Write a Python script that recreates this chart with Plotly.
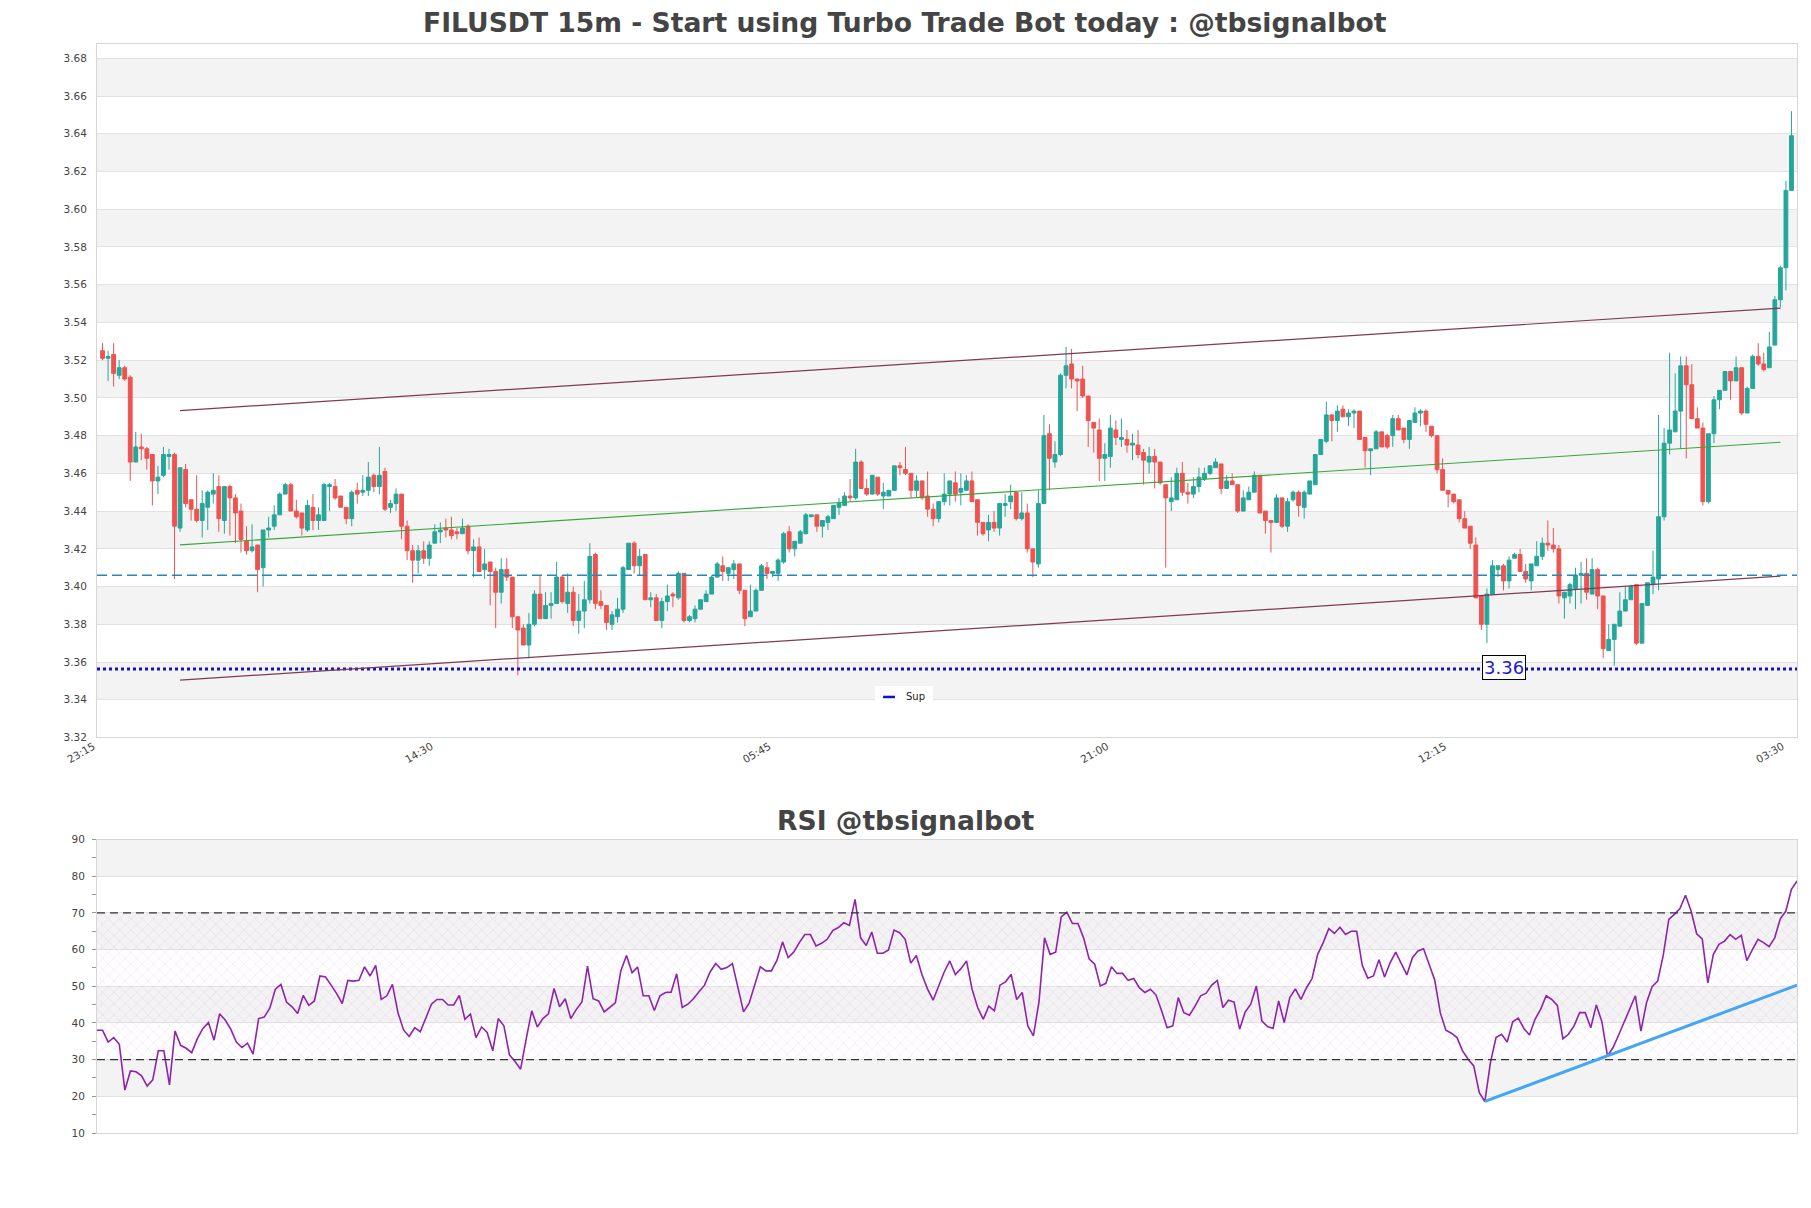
import plotly.graph_objects as go

# ---------------- data ----------------
tick_labels = ["23:15", "14:30", "05:45", "21:00", "12:15", "03:30"]
tick_index = [0, 61, 122, 183, 244, 305]

opens = [
    3.525, 3.521, 3.523, 3.512, 3.516, 3.511, 3.466, 3.474, 3.473, 3.470,
    3.456, 3.459, 3.469, 3.470, 3.431, 3.462, 3.446, 3.441, 3.435, 3.442,
    3.449, 3.453, 3.435, 3.453, 3.447, 3.440, 3.424, 3.419, 3.422, 3.410,
    3.430, 3.432, 3.438, 3.449, 3.454, 3.440, 3.439, 3.430, 3.442, 3.435,
    3.435, 3.453, 3.453, 3.448, 3.442, 3.436, 3.451, 3.450, 3.451, 3.459,
    3.453, 3.461, 3.442, 3.444, 3.449, 3.432, 3.419, 3.414, 3.419, 3.415,
    3.423, 3.429, 3.431, 3.430, 3.429, 3.428, 3.432, 3.419, 3.421, 3.409,
    3.413, 3.408, 3.397, 3.409, 3.405, 3.384, 3.378, 3.369, 3.380, 3.396,
    3.383, 3.390, 3.391, 3.405, 3.391, 3.397, 3.382, 3.387, 3.393, 3.417,
    3.392, 3.390, 3.380, 3.384, 3.388, 3.409, 3.423, 3.411, 3.417, 3.393,
    3.394, 3.382, 3.392, 3.396, 3.394, 3.407, 3.382, 3.383, 3.388, 3.392,
    3.396, 3.405, 3.411, 3.407, 3.409, 3.412, 3.398, 3.384, 3.387, 3.398,
    3.410, 3.407, 3.407, 3.413, 3.429, 3.420, 3.423, 3.428, 3.437, 3.438,
    3.432, 3.434, 3.436, 3.442, 3.443, 3.448, 3.447, 3.466, 3.452, 3.449,
    3.458, 3.448, 3.448, 3.451, 3.464, 3.462, 3.460, 3.451, 3.456, 3.448,
    3.441, 3.436, 3.445, 3.449, 3.455, 3.450, 3.451, 3.456, 3.446, 3.434,
    3.430, 3.434, 3.431, 3.443, 3.445, 3.450, 3.436, 3.439, 3.420, 3.412,
    3.444, 3.481, 3.466, 3.470, 3.512, 3.518, 3.510, 3.510, 3.501, 3.487,
    3.483, 3.468, 3.469, 3.483, 3.478, 3.478, 3.475, 3.475, 3.471, 3.466,
    3.469, 3.466, 3.454, 3.445, 3.446, 3.460, 3.450, 3.449, 3.453, 3.457,
    3.460, 3.463, 3.465, 3.452, 3.456, 3.454, 3.440, 3.446, 3.450, 3.459,
    3.440, 3.435, 3.434, 3.447, 3.432, 3.446, 3.450, 3.442, 3.449, 3.454,
    3.470, 3.477, 3.491, 3.488, 3.494, 3.490, 3.492, 3.493, 3.479, 3.472,
    3.473, 3.482, 3.480, 3.480, 3.489, 3.484, 3.478, 3.487, 3.492, 3.493,
    3.485, 3.480, 3.462, 3.451, 3.449, 3.446, 3.436, 3.432, 3.422, 3.395,
    3.380, 3.396, 3.409, 3.411, 3.403, 3.415, 3.417, 3.408, 3.403, 3.411,
    3.416, 3.423, 3.422, 3.420, 3.394, 3.395, 3.399, 3.406, 3.407, 3.396,
    3.409, 3.395, 3.366, 3.372, 3.379, 3.387, 3.393, 3.401, 3.370, 3.390,
    3.401, 3.404, 3.437, 3.476, 3.482, 3.493, 3.517, 3.507, 3.489, 3.484,
    3.445, 3.481, 3.499, 3.504, 3.514, 3.509, 3.516, 3.492, 3.505, 3.522,
    3.518, 3.516, 3.528, 3.552, 3.569, 3.610,
]

highs = [
    3.529, 3.525, 3.529, 3.520, 3.517, 3.512, 3.482, 3.481, 3.474, 3.470,
    3.464, 3.474, 3.473, 3.471, 3.463, 3.465, 3.446, 3.459, 3.451, 3.451,
    3.460, 3.459, 3.453, 3.454, 3.449, 3.444, 3.432, 3.433, 3.422, 3.430,
    3.437, 3.443, 3.450, 3.455, 3.455, 3.446, 3.439, 3.446, 3.449, 3.442,
    3.455, 3.455, 3.457, 3.448, 3.442, 3.451, 3.455, 3.459, 3.466, 3.460,
    3.474, 3.463, 3.446, 3.452, 3.449, 3.435, 3.422, 3.422, 3.424, 3.424,
    3.433, 3.434, 3.436, 3.437, 3.431, 3.436, 3.433, 3.425, 3.426, 3.420,
    3.413, 3.410, 3.415, 3.415, 3.405, 3.384, 3.380, 3.386, 3.398, 3.406,
    3.397, 3.397, 3.413, 3.406, 3.407, 3.400, 3.396, 3.403, 3.423, 3.418,
    3.398, 3.390, 3.387, 3.394, 3.411, 3.423, 3.424, 3.420, 3.417, 3.397,
    3.396, 3.394, 3.401, 3.397, 3.408, 3.407, 3.385, 3.390, 3.393, 3.398,
    3.406, 3.413, 3.416, 3.410, 3.414, 3.412, 3.398, 3.401, 3.399, 3.412,
    3.413, 3.408, 3.415, 3.429, 3.432, 3.424, 3.430, 3.439, 3.438, 3.438,
    3.435, 3.438, 3.443, 3.447, 3.450, 3.457, 3.473, 3.467, 3.457, 3.459,
    3.458, 3.455, 3.451, 3.464, 3.466, 3.474, 3.460, 3.459, 3.456, 3.461,
    3.444, 3.445, 3.460, 3.456, 3.461, 3.460, 3.459, 3.461, 3.446, 3.434,
    3.438, 3.440, 3.444, 3.449, 3.454, 3.450, 3.450, 3.444, 3.420, 3.451,
    3.491, 3.486, 3.477, 3.513, 3.527, 3.526, 3.510, 3.517, 3.501, 3.487,
    3.489, 3.476, 3.491, 3.488, 3.489, 3.483, 3.481, 3.483, 3.473, 3.474,
    3.473, 3.466, 3.454, 3.458, 3.463, 3.466, 3.455, 3.458, 3.463, 3.463,
    3.464, 3.468, 3.465, 3.459, 3.460, 3.454, 3.451, 3.453, 3.461, 3.459,
    3.440, 3.435, 3.449, 3.447, 3.447, 3.451, 3.451, 3.451, 3.456, 3.470,
    3.478, 3.498, 3.491, 3.496, 3.496, 3.494, 3.494, 3.493, 3.479, 3.473,
    3.483, 3.482, 3.481, 3.491, 3.491, 3.484, 3.488, 3.495, 3.494, 3.494,
    3.485, 3.480, 3.468, 3.451, 3.449, 3.446, 3.440, 3.432, 3.426, 3.395,
    3.399, 3.414, 3.411, 3.412, 3.416, 3.418, 3.420, 3.412, 3.412, 3.424,
    3.426, 3.435, 3.431, 3.422, 3.397, 3.402, 3.410, 3.413, 3.415, 3.415,
    3.410, 3.395, 3.380, 3.380, 3.397, 3.400, 3.401, 3.401, 3.391, 3.402,
    3.419, 3.491, 3.484, 3.524, 3.513, 3.522, 3.522, 3.518, 3.495, 3.487,
    3.481, 3.501, 3.504, 3.514, 3.514, 3.522, 3.516, 3.506, 3.523, 3.529,
    3.524, 3.535, 3.554, 3.570, 3.615, 3.652,
]

lows = [
    3.520, 3.509, 3.506, 3.510, 3.509, 3.456, 3.466, 3.467, 3.462, 3.443,
    3.449, 3.458, 3.462, 3.404, 3.429, 3.442, 3.435, 3.434, 3.426, 3.430,
    3.444, 3.429, 3.428, 3.427, 3.423, 3.418, 3.417, 3.418, 3.397, 3.400,
    3.426, 3.430, 3.438, 3.449, 3.440, 3.436, 3.427, 3.429, 3.430, 3.430,
    3.435, 3.440, 3.446, 3.442, 3.433, 3.432, 3.444, 3.448, 3.448, 3.450,
    3.449, 3.440, 3.439, 3.440, 3.425, 3.414, 3.402, 3.407, 3.412, 3.411,
    3.423, 3.423, 3.426, 3.425, 3.425, 3.428, 3.417, 3.405, 3.408, 3.404,
    3.390, 3.378, 3.391, 3.403, 3.378, 3.353, 3.369, 3.362, 3.379, 3.383,
    3.383, 3.383, 3.391, 3.391, 3.386, 3.379, 3.375, 3.378, 3.391, 3.388,
    3.388, 3.377, 3.377, 3.381, 3.386, 3.409, 3.407, 3.406, 3.393, 3.389,
    3.382, 3.378, 3.387, 3.389, 3.393, 3.381, 3.381, 3.381, 3.388, 3.392,
    3.396, 3.405, 3.403, 3.403, 3.404, 3.396, 3.379, 3.384, 3.387, 3.398,
    3.404, 3.405, 3.403, 3.412, 3.418, 3.416, 3.423, 3.428, 3.437, 3.429,
    3.426, 3.430, 3.436, 3.438, 3.443, 3.445, 3.446, 3.452, 3.448, 3.449,
    3.448, 3.441, 3.448, 3.451, 3.459, 3.459, 3.447, 3.447, 3.446, 3.437,
    3.432, 3.434, 3.443, 3.443, 3.445, 3.443, 3.451, 3.445, 3.427, 3.427,
    3.424, 3.429, 3.427, 3.437, 3.441, 3.435, 3.435, 3.418, 3.405, 3.410,
    3.444, 3.451, 3.463, 3.469, 3.505, 3.505, 3.493, 3.500, 3.474, 3.471,
    3.456, 3.456, 3.463, 3.475, 3.474, 3.471, 3.467, 3.468, 3.454, 3.460,
    3.452, 3.454, 3.410, 3.440, 3.446, 3.448, 3.444, 3.447, 3.450, 3.456,
    3.459, 3.463, 3.449, 3.452, 3.454, 3.439, 3.440, 3.446, 3.450, 3.439,
    3.428, 3.418, 3.434, 3.431, 3.429, 3.445, 3.437, 3.436, 3.449, 3.454,
    3.470, 3.476, 3.477, 3.482, 3.490, 3.485, 3.484, 3.478, 3.463, 3.459,
    3.473, 3.474, 3.473, 3.474, 3.483, 3.476, 3.473, 3.487, 3.485, 3.482,
    3.479, 3.460, 3.451, 3.442, 3.444, 3.434, 3.431, 3.420, 3.394, 3.377,
    3.370, 3.396, 3.405, 3.398, 3.399, 3.415, 3.408, 3.402, 3.398, 3.411,
    3.414, 3.419, 3.418, 3.391, 3.383, 3.391, 3.388, 3.391, 3.393, 3.396,
    3.388, 3.362, 3.366, 3.358, 3.379, 3.387, 3.393, 3.369, 3.370, 3.390,
    3.396, 3.398, 3.435, 3.470, 3.482, 3.473, 3.468, 3.489, 3.484, 3.443,
    3.444, 3.476, 3.494, 3.504, 3.499, 3.509, 3.491, 3.492, 3.505, 3.517,
    3.514, 3.516, 3.528, 3.548, 3.557, 3.610,
]

closes = [
    3.521, 3.522, 3.513, 3.516, 3.510, 3.466, 3.474, 3.473, 3.468, 3.456,
    3.458, 3.470, 3.470, 3.432, 3.463, 3.444, 3.441, 3.435, 3.444, 3.450,
    3.451, 3.436, 3.453, 3.447, 3.439, 3.425, 3.419, 3.421, 3.409, 3.430,
    3.431, 3.438, 3.449, 3.454, 3.440, 3.437, 3.431, 3.443, 3.435, 3.438,
    3.454, 3.454, 3.447, 3.442, 3.436, 3.450, 3.449, 3.451, 3.458, 3.453,
    3.459, 3.441, 3.444, 3.449, 3.432, 3.419, 3.414, 3.419, 3.415, 3.422,
    3.429, 3.430, 3.430, 3.427, 3.428, 3.431, 3.419, 3.421, 3.408, 3.412,
    3.408, 3.397, 3.409, 3.405, 3.384, 3.377, 3.369, 3.380, 3.396, 3.383,
    3.390, 3.391, 3.405, 3.392, 3.397, 3.382, 3.387, 3.393, 3.416, 3.391,
    3.390, 3.381, 3.385, 3.388, 3.410, 3.423, 3.411, 3.416, 3.393, 3.394,
    3.382, 3.392, 3.395, 3.395, 3.407, 3.382, 3.384, 3.388, 3.393, 3.396,
    3.405, 3.412, 3.408, 3.410, 3.412, 3.398, 3.383, 3.387, 3.398, 3.411,
    3.407, 3.408, 3.414, 3.428, 3.420, 3.424, 3.429, 3.438, 3.438, 3.432,
    3.435, 3.437, 3.443, 3.444, 3.448, 3.447, 3.466, 3.452, 3.449, 3.459,
    3.449, 3.450, 3.451, 3.464, 3.463, 3.460, 3.451, 3.456, 3.447, 3.441,
    3.436, 3.445, 3.449, 3.456, 3.449, 3.452, 3.456, 3.445, 3.434, 3.428,
    3.434, 3.431, 3.444, 3.444, 3.448, 3.436, 3.439, 3.420, 3.413, 3.444,
    3.480, 3.468, 3.470, 3.512, 3.517, 3.510, 3.509, 3.501, 3.488, 3.484,
    3.468, 3.470, 3.484, 3.479, 3.479, 3.475, 3.476, 3.470, 3.467, 3.469,
    3.466, 3.455, 3.447, 3.447, 3.460, 3.450, 3.449, 3.453, 3.458, 3.460,
    3.464, 3.466, 3.452, 3.456, 3.454, 3.440, 3.447, 3.450, 3.459, 3.439,
    3.435, 3.434, 3.447, 3.432, 3.445, 3.450, 3.443, 3.450, 3.456, 3.470,
    3.478, 3.491, 3.488, 3.493, 3.490, 3.492, 3.493, 3.478, 3.472, 3.473,
    3.482, 3.474, 3.474, 3.489, 3.483, 3.478, 3.488, 3.492, 3.493, 3.486,
    3.480, 3.462, 3.451, 3.449, 3.445, 3.436, 3.431, 3.423, 3.394, 3.380,
    3.396, 3.411, 3.411, 3.403, 3.414, 3.417, 3.408, 3.404, 3.412, 3.416,
    3.423, 3.422, 3.420, 3.395, 3.397, 3.401, 3.406, 3.407, 3.397, 3.409,
    3.395, 3.367, 3.372, 3.380, 3.387, 3.393, 3.400, 3.370, 3.391, 3.402,
    3.405, 3.437, 3.476, 3.483, 3.493, 3.517, 3.507, 3.489, 3.484, 3.445,
    3.481, 3.499, 3.504, 3.514, 3.509, 3.516, 3.492, 3.505, 3.522, 3.518,
    3.515, 3.527, 3.552, 3.569, 3.610, 3.639,
]

rsi = [
    38.0, 38.0, 34.8, 36.0, 34.2, 21.7, 26.9, 26.7, 25.6, 22.8,
    24.5, 32.4, 32.4, 23.1, 37.8, 33.9, 33.1, 31.9, 35.7, 38.5,
    40.1, 35.3, 42.5, 40.8, 38.3, 34.8, 33.3, 34.5, 31.5, 41.2,
    41.6, 44.0, 49.2, 50.5, 45.7, 44.4, 42.6, 47.5, 44.8, 46.0,
    52.8, 52.5, 50.3, 48.0, 45.3, 51.6, 51.4, 51.6, 55.3, 52.8,
    55.7, 46.4, 47.4, 50.5, 42.8, 38.1, 36.3, 38.7, 37.6, 41.5,
    45.1, 46.4, 46.4, 44.9, 44.9, 47.5, 41.0, 42.4, 36.0, 38.9,
    37.4, 32.4, 41.2, 39.2, 31.3, 29.5, 27.4, 35.6, 43.3, 38.9,
    41.2, 42.5, 49.4, 44.4, 46.6, 41.2, 43.7, 45.7, 55.5, 46.6,
    46.0, 43.0, 44.2, 45.5, 54.3, 58.4, 53.7, 55.2, 47.4, 47.4,
    43.4, 47.4, 48.3, 48.4,
    53.4, 44.2, 45.1, 46.6, 48.5, 50.3, 53.9, 56.2, 54.6, 55.1,
    56.2, 49.3, 43.0, 45.4, 50.1, 55.3, 54.2, 54.2, 57.1, 62.1,
    57.8, 59.3, 61.9, 64.1, 64.1, 61.0, 61.7, 62.8, 65.2, 66.0,
    67.3, 66.6, 73.7, 63.2, 61.1, 64.8, 59.0, 59.0, 59.9, 65.3,
    64.6, 62.8, 56.3, 58.4, 53.2, 49.3, 46.2, 50.1, 53.9, 56.9,
    53.2, 54.8, 56.9, 49.2, 44.2, 41.0, 44.6, 43.3, 50.3, 51.2,
    53.2, 46.4, 48.3, 39.2, 36.5, 45.7, 63.2, 58.7, 59.3, 68.9,
    70.2, 67.1, 67.1, 63.2, 57.5, 56.0, 50.1, 50.8, 55.3, 53.5,
    53.5, 51.6, 52.1, 49.6, 48.3, 49.2, 47.6, 43.3, 38.7, 39.2,
    46.9, 42.8, 42.1, 44.6, 47.4, 48.1, 50.3, 51.6, 44.2, 46.2,
    45.7, 38.3,
    43.0, 45.1, 50.1, 40.5, 39.0, 38.5, 46.0, 40.1, 46.9, 49.3,
    46.4, 49.6, 52.1, 58.7, 61.9, 65.7, 64.4, 66.1, 64.1, 65.0,
    65.0, 55.7, 52.2, 52.8, 57.2, 52.5, 56.4, 59.3, 56.0, 53.1,
    57.8, 59.6, 60.2, 55.7, 51.7, 42.8, 38.0, 37.2, 36.0, 32.4,
    30.1, 28.3, 21.0, 18.6, 29.2, 36.0, 36.9, 34.8, 40.3, 41.3,
    38.5, 36.7, 41.0, 43.7, 47.4, 46.4, 44.8, 35.7, 36.9, 39.2,
    42.8, 42.8, 38.7, 44.9, 40.3, 31.0, 33.3, 36.7, 40.4, 43.7,
    47.4, 37.8, 45.5, 49.9, 51.4, 58.4, 68.2, 69.6, 71.2, 74.8,
    70.5, 64.3, 62.9, 50.9, 58.7, 61.4, 62.3, 64.1, 62.8, 63.9,
    57.0, 60.0, 62.8, 61.9, 60.8, 63.2, 68.4, 70.5, 76.4, 78.7,
]

support_level = 3.3563
support_label = "3.36"
support_label_index = 253
dashed_level = 3.406
channel_upper = [(14, 3.4933), (303, 3.5476)]
channel_lower = [(14, 3.3504), (303, 3.4055)]
channel_mid = [(14, 3.4221), (303, 3.4765)]
rsi_trend = [(249, 18.6), (305, 50.3)]

# ---------------- style ----------------
UP = "#26a69a"
DOWN = "#ef5350"
FONT = "DejaVu Sans"
TXT = "#444444"
BAND = "#f3f3f3"
GRID = "#e2e2e2"
FRAME = "#d6d6d6"
TITLE_X = 0.4753

N = len(closes)
xs = list(range(N))

fig = go.Figure()

fig.add_trace(go.Candlestick(
    x=xs, open=opens, high=highs, low=lows, close=closes,
    increasing=dict(line=dict(color=UP, width=1), fillcolor=UP),
    decreasing=dict(line=dict(color=DOWN, width=1), fillcolor=DOWN),
    whiskerwidth=0, xaxis="x", yaxis="y", showlegend=False, hoverinfo="skip",
))

fig.add_trace(go.Scatter(
    x=[-1, N], y=[support_level, support_level], mode="lines",
    line=dict(color="#1212c8", width=3, dash="dot"),
    xaxis="x", yaxis="y", showlegend=False, hoverinfo="skip",
))

# RSI hatch zone
fig.add_trace(go.Scatter(
    x=[0, N - 1, N - 1, 0, 0], y=[30, 30, 70, 70, 30], mode="lines",
    fill="toself", line=dict(width=0, color="rgba(0,0,0,0)"),
    fillcolor="rgba(0,0,0,0)",
    fillpattern=dict(shape="x", fgcolor="rgba(205,150,230,0.75)",
                     bgcolor="rgba(0,0,0,0)", size=8, solidity=0.12),
    xaxis="x2", yaxis="y2", showlegend=False, hoverinfo="skip",
))

fig.add_trace(go.Scatter(
    x=list(range(len(rsi))), y=rsi, mode="lines",
    line=dict(color="#8e24aa", width=1.6),
    xaxis="x2", yaxis="y2", showlegend=False, hoverinfo="skip",
))

shapes = []
# price bands
b = 3.34
while b < 3.67:
    shapes.append(dict(type="rect", xref="x domain", yref="y", x0=0, x1=1,
                       y0=b, y1=b + 0.02, fillcolor=BAND, line=dict(width=0),
                       layer="below"))
    b += 0.04
# rsi bands
for lo in (20, 40, 60, 80):
    shapes.append(dict(type="rect", xref="x2 domain", yref="y2", x0=0, x1=1,
                       y0=lo, y1=lo + 10, fillcolor=BAND, line=dict(width=0),
                       layer="below"))

def seg(pts, color, width, dash="solid", xref="x", yref="y"):
    (xa, ya), (xb, yb) = pts
    return dict(type="line", xref=xref, yref=yref, x0=xa, y0=ya, x1=xb, y1=yb,
                line=dict(color=color, width=width, dash=dash))

shapes.append(seg(channel_upper, "#7e3b52", 1.2))
shapes.append(seg(channel_lower, "#7e3b52", 1.2))
shapes.append(seg(channel_mid, "#3aa63a", 1.1))
shapes.append(dict(type="line", xref="x domain", yref="y", x0=0, x1=1,
                   y0=dashed_level, y1=dashed_level,
                   line=dict(color="#2488bd", width=1.3, dash="10px,5px")))
for lvl in (30, 70):
    shapes.append(dict(type="line", xref="x2 domain", yref="y2", x0=0, x1=1,
                       y0=lvl, y1=lvl, line=dict(color="#333333", width=1.2, dash="8px,5px")))
shapes.append(seg(rsi_trend, "#42a5f5", 3, xref="x2", yref="y2"))

# legend box (custom)
shapes.append(dict(type="rect", xref="paper", yref="paper", x0=0.4576, x1=0.4918,
                   y0=0.3912, y1=0.4105, fillcolor="white", line=dict(width=0)))
shapes.append(dict(type="line", xref="paper", yref="paper", x0=0.4624, x1=0.4694,
                   y0=0.4004, y1=0.4004, line=dict(color="#1212c8", width=2.5)))

annotations = [
    dict(text="<b>FILUSDT 15m - Start using Turbo Trade Bot today : @tbsignalbot</b>",
         xref="paper", yref="paper", x=TITLE_X, y=1.0202, xanchor="center", yanchor="middle",
         showarrow=False, font=dict(family=FONT, size=26.6, color=TXT)),
    dict(text="<b>RSI @tbsignalbot</b>",
         xref="paper", yref="paper", x=TITLE_X, y=0.2874, xanchor="center", yanchor="middle",
         showarrow=False, font=dict(family=FONT, size=26.6, color=TXT)),
    dict(text=support_label, xref="x", yref="y", x=support_label_index, y=support_level,
         yshift=2, showarrow=False, font=dict(family=FONT, size=18, color="#1a1ad8"),
         bgcolor="white", bordercolor="black", borderwidth=1, borderpad=1),
    dict(text="Sup", xref="paper", yref="paper", x=0.4747, y=0.4004,
         xanchor="left", yanchor="middle", showarrow=False,
         font=dict(family=FONT, size=10, color="#222222")),
]

axis_common = dict(showline=True, mirror=True, linecolor=FRAME, linewidth=1,
                   zeroline=False, tickfont=dict(family=FONT, size=10.5, color=TXT))

fig.update_layout(
    width=1811, height=1208, autosize=False,
    margin=dict(l=97, r=14, t=44, b=75),
    paper_bgcolor="white", plot_bgcolor="white",
    showlegend=False, boxgap=0.02,
    xaxis=dict(domain=[0, 1], anchor="y", range=[-1, N],
               tickvals=tick_index, ticktext=tick_labels, tickangle=-30,
               showgrid=False, ticks="", ticklabelshift=-9, ticklabelstandoff=-2,
               rangeslider=dict(visible=False), **axis_common),
    yaxis=dict(domain=[0.3632, 1.0], anchor="x", range=[3.32, 3.6876],
               dtick=0.02, tick0=3.32, tickformat=".2f", showgrid=True,
               gridcolor=GRID, gridwidth=1, ticks="", ticklabelstandoff=7,
               **axis_common),
    xaxis2=dict(domain=[0, 1], anchor="y2", range=[0, len(rsi) - 1],
                showticklabels=False, showgrid=False, ticks="", **axis_common),
    yaxis2=dict(domain=[0, 0.2695], anchor="x2", range=[10, 90], dtick=10,
                tick0=10, showgrid=True, gridcolor=GRID, ticks="outside",
                ticklen=4, tickcolor="#999999",
                minor=dict(dtick=5, ticks="outside", ticklen=4, tickcolor="#999999",
                           showgrid=False),
                ticklabelstandoff=5, **axis_common),
    shapes=shapes,
    annotations=annotations,
)

fig.write_html("out.html")
